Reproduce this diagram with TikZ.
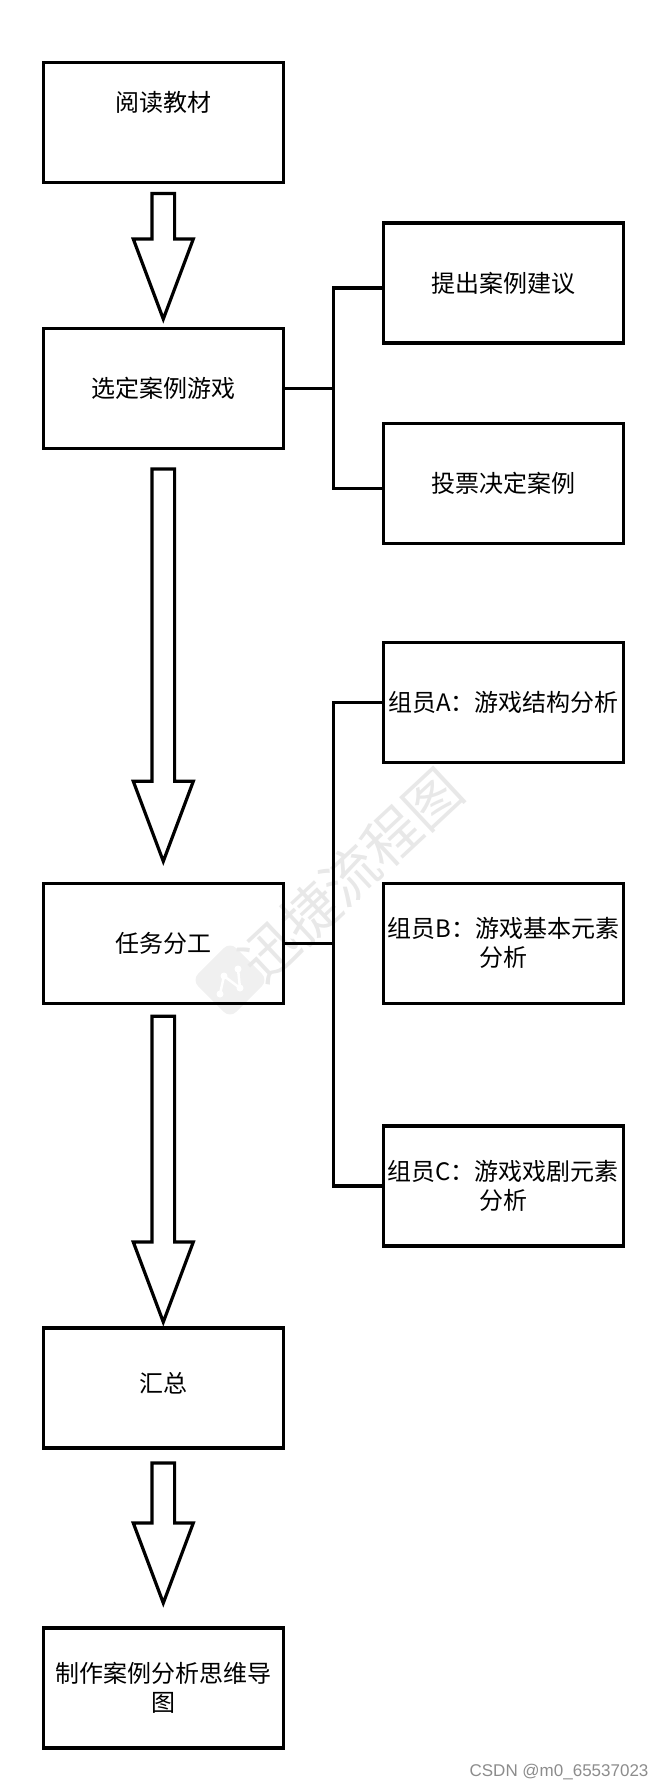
\documentclass[tikz,border=0pt]{standalone}
\usepackage{fontspec}
\setmainfont{Noto Sans CJK SC}
\newfontfamily\csdnfont{Liberation Sans}
\usetikzlibrary{calc}
\tikzset{
	box/.style={draw, line width=3.2pt, minimum width=240pt, minimum height=120pt, inner sep=0pt, outer sep=0pt, align=center, font=\fontsize{24}{29}\selectfont},
	link/.style={line width=3.2pt},
	fatarrow/.style={line width=3.2pt, fill=white},
}
\def\blockarrow(#1)(#2)(#3:#4){\draw[fatarrow] let \p1=($(#1.south)+(0,#3)$), \p2=($(#2.north)+(0,-#4)$) in (\x1-11.3pt,\y1) -- (\x1+11.3pt,\y1) -- (\x1+11.3pt,\y2+80pt) -- (\x1+30pt,\y2+80pt) -- (\x1,\y2) -- (\x1-30pt,\y2+80pt) -- (\x1-11.3pt,\y2+80pt) -- cycle;}

\begin{document}
\begin{tikzpicture}[x=1pt,y=-1pt]
			%%%%% START %%%%%
			\useasboundingbox (0,0) rectangle (664,1790);
			
			% watermark
			\node[rotate=45, fill=black!6, rounded corners=9pt, minimum size=54pt] (wlogo) at (230,980) {};
			\draw[white, line width=2.5pt] (220,994) -- (224,976) -- (240,988) -- (238,969);
			\foreach \p in {(220,994),(224,976),(240,988),(238,969)}
				\fill[white] \p circle (3.5);
			\node[rotate=43, text=black!9, font=\fontsize{56}{56}\selectfont] (wmark) at (351,875) {迅捷流程图};
			
			\node[box] (read) at (163.3,122.5) {\raisebox{20pt}[\height][\depth]{阅读教材}};
			\node[box] (select) at (163.3,388.3) {选定案例游戏};
			\node[box] (propose) at (503.3,283) {提出案例建议};
			\node[box] (vote) at (503.3,483.3) {投票决定案例};
			
			\node[box] (memA) at (503.3,702.3) {组员A：游戏结构分析};
			\node[box] (task) at (163.3,943.3) {任务分工};
			\node[box] (memB) at (503.3,943.3) {组员B：游戏基本元素\\分析};
			\node[box] (memC) at (503.3,1186) {组员C：游戏戏剧元素\\分析};
			
			\node[box] (summary) at (163.3,1388) {\raisebox{5pt}[\height][\depth]{汇总}};
			\node[box] (make) at (163.3,1688) {制作案例分析思维导\\图};
			
			\blockarrow(read)(select)(11:9.3)
			\blockarrow(select)(task)(20.6:22)
			\blockarrow(task)(summary)(13:6)
			\blockarrow(summary)(make)(15:25)
			
			\coordinate (fork1) at (333.3,388.3);
			\draw[link] (select.east) -- (fork1);
			\draw[link] ([yshift=-5pt]propose.west) -| (fork1) |- ([yshift=-5pt]vote.west);
			
			\coordinate (fork2) at (333.3,943.3);
			\draw[link] (task.east) -- (fork2);
			\draw[link] (memA.west) -| (fork2) |- (memC.west);
			
			\node[anchor=east, text=black!45, font=\csdnfont\fontsize{17}{17}\selectfont] (csdn) at (652,1772) {CSDN @m0\_65537023};
			%%%%% END %%%%%
\end{tikzpicture}
\end{document}
